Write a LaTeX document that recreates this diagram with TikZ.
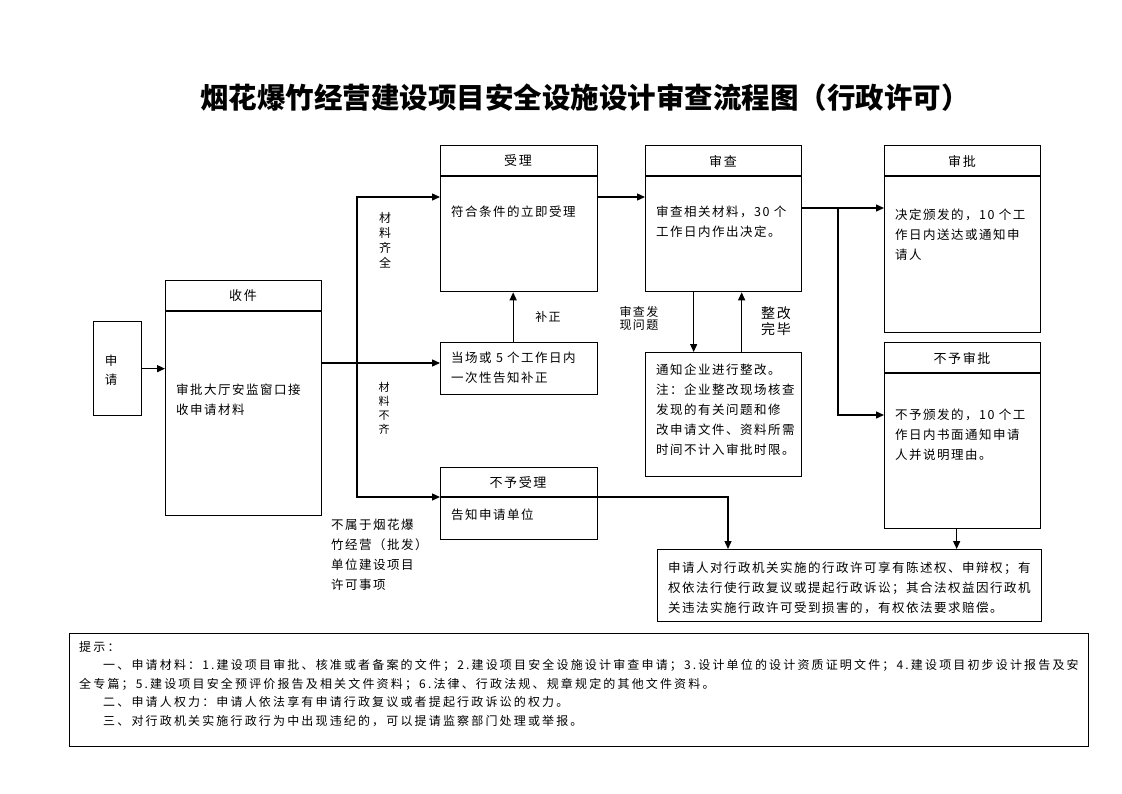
\documentclass[tikz,border=0pt]{standalone}
\usepackage{fontspec}
\newfontfamily\cjk[LetterSpace=12]{Noto Sans CJK SC}
\newfontfamily\cjknote[LetterSpace=18]{Noto Sans CJK SC}
\newfontfamily\cjktitle{Noto Sans CJK SC}
\usetikzlibrary{arrows.meta}

\begin{document}
\begin{tikzpicture}[x=1pt, y=-1pt,
    box/.style={draw, line width=1.3pt, anchor=north west, inner sep=0pt},
    head/.style={font=\cjk\fontsize{13}{16}\selectfont, inner sep=0pt},
    txt/.style={font=\cjk\fontsize{12.5}{20}\selectfont, align=left, anchor=west, inner sep=0pt},
    lab/.style={font=\cjk\fontsize{12}{15}\selectfont, align=center, inner sep=0pt},
    ln/.style={line width=1.3pt},
    arr/.style={line width=1.3pt, -{Triangle[length=8pt,width=7pt]}}]
  \useasboundingbox (0,0) rectangle (1122,793);

  \node[font=\cjktitle\bfseries\fontsize{28.5}{30}\selectfont, inner sep=0pt]
    (title) at (585,98) {烟花爆竹经营建设项目安全设施设计审查流程图（行政许可）};

  % boxes
  \node[box, minimum width=48, minimum height=94] (shen) at (93,321) {};
  \node[box, minimum width=156, minimum height=235] (shoujian) at (165,280) {};
  \node[box, minimum width=157, minimum height=146] (shouli) at (440,145) {};
  \node[box, minimum width=157, minimum height=52] (buzheng) at (440,342) {};
  \node[box, minimum width=157, minimum height=72] (buyushouli) at (440,467) {};
  \node[box, minimum width=156, minimum height=146] (shencha) at (645,145) {};
  \node[box, minimum width=156, minimum height=124] (zhenggai) at (645,352) {};
  \node[box, minimum width=156, minimum height=187] (shenpi) at (884,145) {};
  \node[box, minimum width=156, minimum height=186] (buyushenpi) at (884,342) {};
  \node[box, minimum width=384, minimum height=72] (quanli) at (657,549) {};
  \node[box, line width=1pt, minimum width=1019, minimum height=113] (tishi) at (69,633) {};

  \draw[ln] ([yshift=-31]shoujian.north west) -- ([yshift=-31]shoujian.north east);
  \draw[ln] ([yshift=-31]shouli.north west) -- ([yshift=-31]shouli.north east);
  \draw[ln] ([yshift=-30]buyushouli.north west) -- ([yshift=-30]buyushouli.north east);
  \draw[ln] ([yshift=-31]shencha.north west) -- ([yshift=-31]shencha.north east);
  \draw[ln] ([yshift=-31]shenpi.north west) -- ([yshift=-31]shenpi.north east);
  \draw[ln] ([yshift=-31]buyushenpi.north west) -- ([yshift=-31]buyushenpi.north east);

  % headers
  \node[head] (h1) at (243,296) {收件};
  \node[head] (h2) at (518,161) {受理};
  \node[head] (h3) at (518,483) {不予受理};
  \node[head] (h4) at (723,161) {审查};
  \node[head] (h5) at (962,161) {审批};
  \node[head] (h6) at (962,358) {不予审批};

  % texts
  \node[lab, font=\cjk\fontsize{12.5}{19}\selectfont] (t0) at (111,370) {申\\请};
  \node[txt] (t1) at (176,400) {审批大厅安监窗口接\\收申请材料};
  \node[txt] (t2) at (451,212) {符合条件的立即受理};
  \node[txt] (t3) at (451,368) {当场或 5 个工作日内\\一次性告知补正};
  \node[txt] (t4) at (451,515) {告知申请单位};
  \node[txt] (t5) at (656,222) {审查相关材料，30 个\\工作日内作出决定。};
  \node[txt] (t6) at (656,410) {通知企业进行整改。\\注：企业整改现场核查\\发现的有关问题和修\\改申请文件、资料所需\\时间不计入审批时限。};
  \node[txt] (t7) at (895,235) {决定颁发的，10 个工\\作日内送达或通知申\\请人};
  \node[txt] (t8) at (895,435) {不予颁发的，10 个工\\作日内书面通知申请\\人并说明理由。};
  \node[txt] (t9) at (668,588) {申请人对行政机关实施的行政许可享有陈述权、申辩权；有\\权依法行使行政复议或提起行政诉讼；其合法权益因行政机\\关违法实施行政许可受到损害的，有权依法要求赔偿。};
  \node[txt, font=\cjknote\fontsize{12}{18.5}\selectfont] (t10) at (79,684)
    {提示：\\
     \hspace*{2em}一、申请材料：1.建设项目审批、核准或者备案的文件；2.建设项目安全设施设计审查申请；3.设计单位的设计资质证明文件；4.建设项目初步设计报告及安\\
     全专篇；5.建设项目安全预评价报告及相关文件资料；6.法律、行政法规、规章规定的其他文件资料。\\
     \hspace*{2em}二、申请人权力：申请人依法享有申请行政复议或者提起行政诉讼的权力。\\
     \hspace*{2em}三、对行政机关实施行政行为中出现违纪的，可以提请监察部门处理或举报。};

  % labels
  \node[lab] (l1) at (385,240) {材\\料\\齐\\全};
  \node[lab, font=\cjk\fontsize{11}{14}\selectfont] (l2) at (384,408) {材\\料\\不\\齐};
  \node[lab] (l3) at (548,317) {补正};
  \node[txt] (l4) at (331,555) {不属于烟花爆\\竹经营（批发）\\单位建设项目\\许可事项};
  \node[lab, font=\cjk\fontsize{12}{13}\selectfont] (l5) at (639,318) {审查发\\现问题};
  \node[lab, font=\cjk\fontsize{14}{16}\selectfont] (l6) at (776,321) {整改\\完毕};

  % connectors
  \coordinate (split) at (357,363);
  \coordinate (uptop) at (357,197);
  \coordinate (downbot) at (357,497);
  \coordinate (fork) at (838,208);
  \coordinate (forkdown) at (838,415);
  \coordinate (turn) at (728,497);

  \draw[arr] (shen.east) -- (shen.east -| shoujian.west);
  \draw[ln] (shoujian.east |- split) -- (split);
  \draw[arr] (split) -- (split -| buzheng.west);
  \draw[arr] (split) -- (uptop) -- (uptop -| shouli.west);
  \draw[arr] (split) -- (downbot) -- (downbot -| buyushouli.west);
  \draw[arr] ([xshift=-6]buzheng.north) -- ([xshift=-6]shouli.south);
  \draw[arr] (shouli.east |- uptop) -- (shencha.west |- uptop);
  \draw[arr] ([xshift=-30]shencha.south) -- ([xshift=-30]zhenggai.north);
  \draw[arr] ([xshift=18]zhenggai.north) -- ([xshift=18]shencha.south);
  \draw[arr] (shencha.east |- fork) -- (fork -| shenpi.west);
  \draw[arr] (fork) -- (forkdown) -- (forkdown -| buyushenpi.west);
  \draw[arr] (buyushouli.east |- turn) -- (turn) -- (turn |- quanli.north);
  \draw[arr] ([xshift=-6]buyushenpi.south) -- ([xshift=-6]buyushenpi.south |- quanli.north);
\end{tikzpicture}
\end{document}
